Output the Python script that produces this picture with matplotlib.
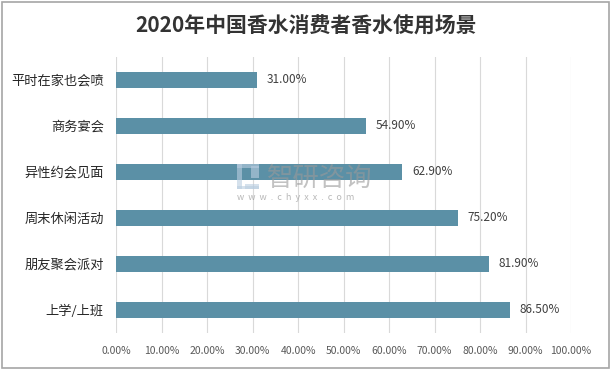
import numpy as np
import matplotlib.pyplot as plt
from matplotlib.patches import Rectangle

plt.rcParams['font.family'] = ['Noto Sans CJK SC', 'DejaVu Sans']

categories = ["平时在家也会喷", "商务宴会", "异性约会见面", "周末休闲活动", "朋友聚会派对", "上学/上班"]
values = [31.00, 54.90, 62.90, 75.20, 81.90, 86.50]
xticks = [0, 10, 20, 30, 40, 50, 60, 70, 80, 90, 100]
title = "2020年中国香水消费者香水使用场景"

fig = plt.figure(figsize=(6.12, 3.70), dpi=100)
ax = fig.add_axes([0.190, 0.100, 0.743, 0.746])

y = np.arange(len(categories))
ax.barh(y, values, height=0.34, color='#5B90A6', zorder=3)
for yi, v in zip(y, values):
    ax.annotate("{:.2f}%".format(v), (v, yi), xytext=(7, 0), textcoords='offset points',
                va='center', ha='left', fontsize=8.5, color='#404040', zorder=4)

ax.set_ylim(len(categories) - 0.5, -0.5)
ax.set_xlim(0, 100)
ax.set_xticks(xticks)
ax.set_xticklabels(["{:.2f}%".format(t) for t in xticks], fontsize=7.5, color='#595959')
ax.set_yticks(y)
ax.set_yticklabels(categories, fontsize=9.5, color='#262626')
ax.tick_params(axis='both', length=0)
ax.tick_params(axis='x', pad=9)
ax.tick_params(axis='y', pad=9)
ax.grid(axis='x', color='#d9d9d9', linewidth=0.8, zorder=0)
for s in ax.spines.values():
    s.set_visible(False)

fig.text(0.5, 0.93, title, ha='center', va='center', fontsize=15,
         fontweight='bold', color='#333333')

# watermark
fig.text(0.437, 0.518, "智研咨询", ha='left', va='center', fontsize=19,
         color='#9a9a9a', alpha=0.6, zorder=5)
fig.text(0.387, 0.465, "w  w  w  .  c  h  y  x  x  .  c  o  m", ha='left', va='center',
         fontsize=6.5, color='#9a9a9a', alpha=0.7, zorder=5)
for (x0, y0, w, h) in [(0.388, 0.545, 0.035, 0.012), (0.388, 0.490, 0.008, 0.067),
                       (0.410, 0.520, 0.013, 0.030), (0.401, 0.490, 0.022, 0.012),
                       (0.388, 0.490, 0.035, 0.008)]:
    fig.patches.append(Rectangle((x0, y0), w, h, transform=fig.transFigure,
                                 facecolor='#b9cde0', alpha=0.6, edgecolor='none', zorder=5))

# outer border
fig.patches.append(Rectangle((0.004, 0.006), 0.991, 0.988, transform=fig.transFigure,
                             fill=False, edgecolor='#a6a6a6', linewidth=1.2))

fig.savefig("out.png", dpi=100)
